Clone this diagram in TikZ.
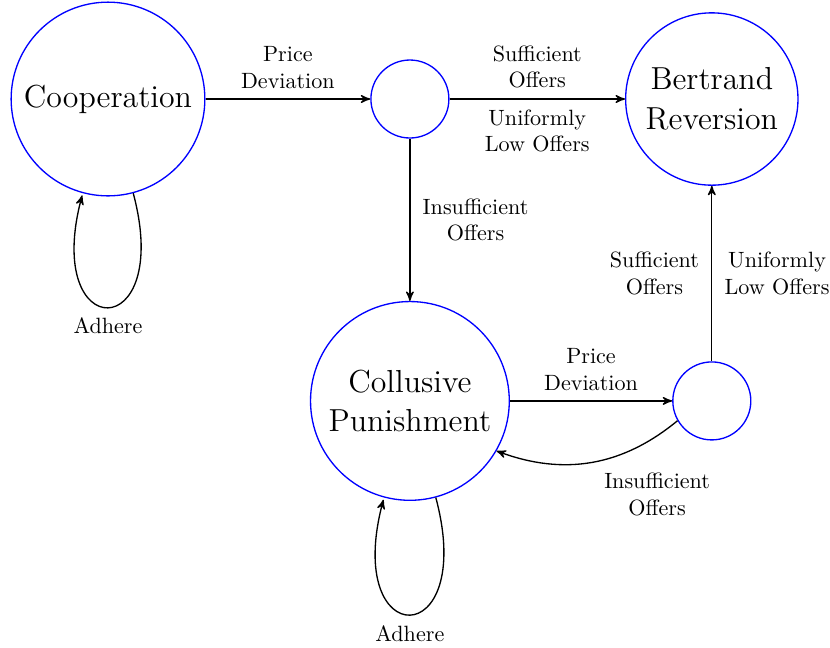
\documentclass[tikz,border=0pt]{standalone}
\usepackage{amsmath}
\usetikzlibrary{arrows,automata}

\begin{document}
\begin{tikzpicture}[->,>=stealth',semithick,
  every state/.style={draw=blue,inner sep=1pt},
  bigstate/.style={state,font=\Large,align=center},
  junction/.style={state,minimum size=1.24cm},
  lbl/.style={align=center,inner xsep=5.5pt,inner ysep=4.5pt}]
\useasboundingbox (-1.717,1.574) rectangle (11.479,-8.728);
% states
\node[bigstate,minimum size=3.08cm] (coop) at (0,0) {Cooperation};
\node[junction] (dev1) at (4.8,0) {};
\node[bigstate,minimum size=2.74cm] (bert) at (9.6,0) {Bertrand\\Reversion};
\node[bigstate,minimum size=3.16cm] (pun) at (4.8,-4.8) {Collusive\\Punishment};
\node[junction] (dev2) at (9.6,-4.8) {};
% transitions
\path (coop) edge node[lbl,above] {Price\\Deviation} (dev1)
      (coop) edge[loop below] node[lbl,below] {Adhere} ()
      (dev1) edge node[lbl,above] {Sufficient\\Offers} node[lbl,below] {Uniformly\\Low Offers} (bert)
      (dev1) edge node[lbl,right] {Insufficient\\Offers} (pun)
      (pun) edge node[lbl,above] {Price\\Deviation} (dev2)
      (pun) edge[loop below] node[lbl,below] {Adhere} ()
      (dev2) edge node[lbl,left] {Sufficient\\Offers} node[lbl,right] {Uniformly\\Low Offers} (bert)
      (dev2) edge[bend left] node[lbl,pos=0.5,below right] {Insufficient\\Offers} (pun);
\end{tikzpicture}
\end{document}
